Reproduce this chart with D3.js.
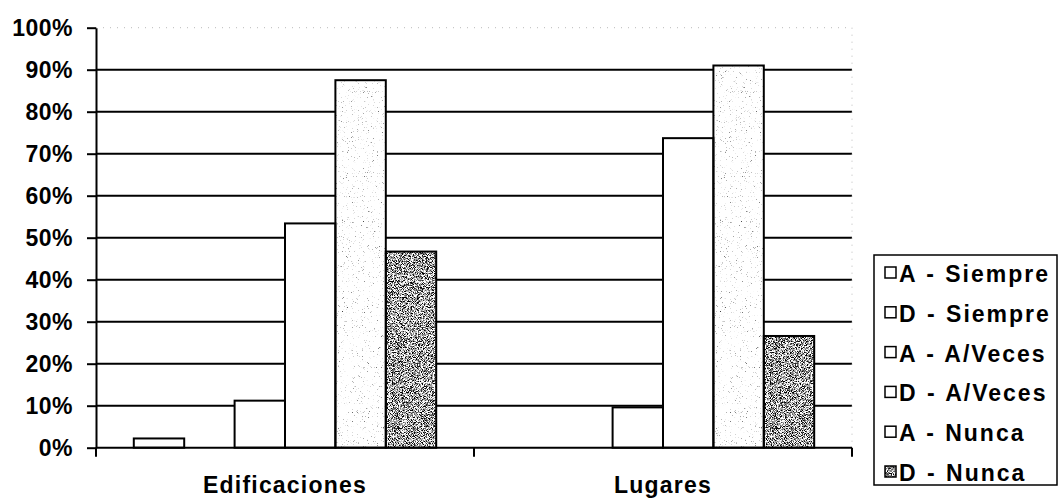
<!DOCTYPE html>
<html><head><meta charset="utf-8">
<script src="https://cdn.jsdelivr.net/npm/d3@7/dist/d3.min.js"></script>
<style>
html,body{margin:0;padding:0;background:#fff;}
svg text{font-family:"Liberation Sans",Arial,sans-serif;font-weight:bold;fill:#000;}
</style></head>
<body><svg id="c" width="1061" height="499"></svg>
<script>
const categories = ["Edificaciones", "Lugares"];
const seriesNames = ["A - Siempre", "D - Siempre", "A - A/Veces", "D - A/Veces", "A - Nunca", "D - Nunca"];
const edificaciones = [0.022, 0, 0.112, 0.534, 0.875, 0.467];
const lugares = [0, 0, 0.096, 0.737, 0.91, 0.266];
const yTicks = [0, 0.1, 0.2, 0.3, 0.4, 0.5, 0.6, 0.7, 0.8, 0.9, 1.0];
const values = [edificaciones, lugares];

(function () {
const svg = d3.select("#c");
const pLeft = 96, pRight = 852, pTop = 27.7, pBottom = 447.7;

const defs = svg.append("defs");
function noiseFilter(id, k, b, freq) {
  const f = defs.append("filter").attr("id", id).attr("x", 0).attr("y", 0)
    .attr("width", "100%").attr("height", "100%")
    .attr("color-interpolation-filters", "sRGB");
  f.append("feTurbulence").attr("type", "fractalNoise").attr("baseFrequency", freq)
    .attr("numOctaves", 2).attr("seed", 7).attr("result", "n");
  f.append("feColorMatrix").attr("in", "n").attr("type", "matrix")
    .attr("values", `${k} 0 0 0 ${b}  ${k} 0 0 0 ${b}  ${k} 0 0 0 ${b}  0 0 0 0 1`).attr("result", "g");
  f.append("feComposite").attr("in", "g").attr("in2", "SourceGraphic").attr("operator", "in");
}
noiseFilter("darkStip", 4, -1.35, 1.2);
noiseFilter("lightStip", 3, 0.0, 1.2);
noiseFilter("swatchStip", 3, -0.9, 1.2);

const filters = [null, null, null, null, "url(#lightStip)", "url(#darkStip)"];
const swatchFilters = [null, null, null, null, null, "url(#swatchStip)"];

const y = d3.scaleLinear().domain([0, 1]).range([pBottom, pTop]);
const x0 = d3.scaleBand().domain(categories).range([pLeft, pRight]).padding(0);
const x1 = d3.scaleBand().domain(seriesNames).range([0, x0.bandwidth()]).paddingInner(0).paddingOuter(0.75);

// gridlines
svg.append("g").selectAll("line").data(yTicks.filter(t => t > 0)).join("line")
  .attr("x1", pLeft).attr("x2", pRight)
  .attr("y1", d => y(d)).attr("y2", d => y(d))
  .attr("stroke", d => d === 1 ? "#bbb" : "#000")
  .attr("stroke-width", d => d === 1 ? 1 : 2)
  .attr("stroke-dasharray", d => d === 1 ? "1,6" : null);
svg.append("line").attr("x1", pRight).attr("x2", pRight).attr("y1", pTop).attr("y2", pBottom)
  .attr("stroke", "#bbb").attr("stroke-width", 1).attr("stroke-dasharray", "1,6");

// bars
const groups = svg.append("g").selectAll("g").data(categories).join("g")
  .attr("transform", d => `translate(${x0(d)},0)`);
groups.each(function(cat, ci) {
  const g = d3.select(this);
  const data = seriesNames.map((s, i) => ({s, i, v: values[ci][i]}));
  g.selectAll("rect.f").data(data.filter(d => filters[d.i])).join("rect").attr("class", "f")
    .attr("x", d => x1(d.s)).attr("width", x1.bandwidth())
    .attr("y", d => y(d.v)).attr("height", d => pBottom - y(d.v))
    .attr("fill", "#000").attr("filter", d => filters[d.i]);
  g.selectAll("rect.b").data(data).join("rect").attr("class", "b")
    .attr("x", d => x1(d.s)).attr("width", x1.bandwidth())
    .attr("y", d => y(d.v)).attr("height", d => pBottom - y(d.v))
    .attr("fill", d => filters[d.i] ? "none" : "#fff")
    .attr("stroke", "#000").attr("stroke-width", 2);
});

// y axis
const yAxis = d3.axisLeft(y).tickValues(yTicks).tickFormat(d3.format(".0%"))
  .tickSize(9).tickSizeOuter(0).tickPadding(14);
const ya = svg.append("g").attr("transform", `translate(${pLeft},0)`).call(yAxis);
ya.select(".domain").attr("stroke", "#000").attr("stroke-width", 2);
ya.selectAll(".tick line").attr("stroke", "#000").attr("stroke-width", 2);
ya.selectAll(".tick text").attr("font-size", 23).attr("font-family", "'Liberation Sans',Arial,sans-serif")
  .attr("font-weight", "bold").attr("fill", "#000").style("letter-spacing", "0.5px");

// x axis
svg.append("line").attr("x1", pLeft).attr("x2", pRight).attr("y1", pBottom).attr("y2", pBottom)
  .attr("stroke", "#000").attr("stroke-width", 2);
const bounds = categories.map(c => x0(c)).concat([x0(categories[categories.length - 1]) + x0.bandwidth()]);
svg.append("g").selectAll("line").data(bounds).join("line")
  .attr("x1", d => d).attr("x2", d => d).attr("y1", pBottom).attr("y2", pBottom + 9)
  .attr("stroke", "#000").attr("stroke-width", 2);
svg.append("g").selectAll("text").data(categories).join("text")
  .attr("x", d => x0(d) + x0.bandwidth() / 2).attr("y", 493)
  .attr("text-anchor", "middle").attr("font-size", 23).style("letter-spacing", "1.2px")
  .text(d => d);

// legend
const lg = svg.append("g");
lg.append("rect").attr("x", 874).attr("y", 255).attr("width", 183).attr("height", 230)
  .attr("fill", "#fff").attr("stroke", "#000").attr("stroke-width", 1.5);
const items = lg.selectAll("g.item").data(seriesNames).join("g").attr("class", "item")
  .attr("transform", (d, i) => `translate(0,${282 + i * 39.8})`);
items.filter((d, i) => swatchFilters[i]).append("rect")
  .attr("x", 885).attr("y", -15).attr("width", 11).attr("height", 11)
  .attr("fill", "#000").attr("filter", d => swatchFilters[seriesNames.indexOf(d)]);
items.append("rect").attr("x", 885).attr("y", -15).attr("width", 11).attr("height", 11)
  .attr("fill", d => swatchFilters[seriesNames.indexOf(d)] ? "none" : "#fff")
  .attr("stroke", "#000").attr("stroke-width", 1.5);
items.append("text").attr("x", 899).attr("y", 0).attr("font-size", 23)
  .style("letter-spacing", "2px").style("word-spacing", "1px").text(d => d);
})();
</script></body></html>
